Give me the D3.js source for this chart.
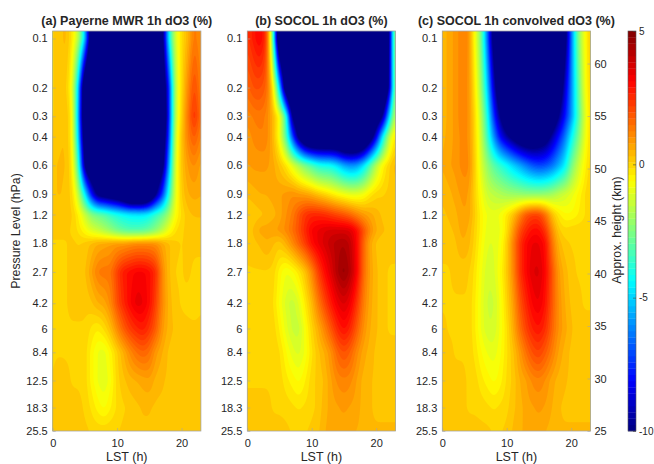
<!DOCTYPE html>
<html><head><meta charset="utf-8">
<script src="https://cdn.jsdelivr.net/npm/d3@7"></script>
<style>
html,body{margin:0;padding:0;background:#fff;}
svg{display:block;}
text{font-family:"Liberation Sans",Arial,sans-serif;fill:#262626;}
</style></head><body>
<svg id="c" width="654" height="464"></svg>
<script>
const hours=d3.range(0,24);
const levels=[0.1,0.2,0.3,0.4,0.6,0.9,1.2,1.5,1.8,2.7,4.2,6,8.4,12.5,18.3,25.5];
const pressureTicks=[0.1,0.2,0.3,0.4,0.6,0.9,1.2,1.8,2.7,4.2,6,8.4,12.5,18.3,25.5];
const lstTicks=[0,10,20];
const heightTicks=[25,30,35,40,45,50,55,60];
const colorTicks=[-10,-5,0,5];
const titles=["(a) Payerne MWR 1h dO3 (%)","(b) SOCOL 1h dO3 (%)","(c) SOCOL 1h convolved dO3 (%)"];
const panelA=[
[.05,.15,.45,-.2,-1.6,-5,-12,-14,-14,-14,-14,-14,-14,-14,-14,-14,-14,-11,-4.5,-1.2,-.1,.45,1.5,.85],
[.05,.15,.25,-.7,-5,-13,-14,-14,-14,-14,-14,-14,-14,-14,-14,-14,-14,-12,-8,-1.5,-.1,1.1,2.2,1.1],
[.05,.15,.35,-.3,-5.5,-13,-14,-14,-14,-14,-14,-14,-14,-14,-14,-14,-14,-13,-8,-1.5,.05,1.4,2.6,1.3],
[.15,.25,.35,-.3,-5,-12,-14,-14,-14,-14,-14,-14,-14,-14,-14,-14,-14,-12,-7.5,-1.2,.25,1.3,1.9,1.1],
[.25,.35,.35,-.1,-3.5,-10.5,-13,-13,-13,-13,-13,-13,-13,-13,-13,-13,-13,-11,-6,-1,.25,.85,1.1,.65],
[.25,.35,.25,.05,-1.5,-4.5,-8,-10.5,-11,-11.5,-12,-13,-14.5,-14.5,-14.5,-13,-10,-7.5,-4,-1,.15,.55,.65,.55],
[.15,.15,.15,.15,-.4,-1.4,-2.4,-2.8,-3.1,-3.6,-4,-4.3,-4.5,-4.6,-4.6,-4.3,-3.6,-3,-2,-.7,-.1,.25,.35,.35],
[.15,.15,.15,.05,-.2,-.6,-1.1,-1.4,-1.8,-2.2,-2.7,-3,-3.2,-3.2,-3.1,-2.8,-2.3,-1.6,-.8,-.2,.05,.15,.15,.15],
[.05,.05,.05,.15,.05,.15,.35,.55,.65,.75,.85,.85,1,1.1,1.1,1.1,1,.65,.35,.15,.05,.15,.15,.15],
[.05,.05,.05,.15,.15,.25,.75,1.3,1.4,1.4,2.2,2.8,3,3.2,3.2,3,2.5,1.1,.35,.05,.05,.15,0,0],
[.05,.05,.05,.15,.15,.15,.25,.55,.65,1.1,2,2.6,3.1,3.5,3.4,3,2.2,1.1,.45,.15,.05,0,-.1,.05],
[.05,.05,.05,.05,.05,.05,-.2,-.4,-.1,.35,1.1,1.8,2.3,2.6,2.8,2.4,1.8,.85,.45,.25,.15,.15,.15,.15],
[.05,.05,.05,.05,.05,0,-.5,-.9,-1,-.5,.05,.55,1.1,1.5,1.7,1.5,.85,.55,.25,.15,.15,.15,.15,.15],
[.05,.25,.15,.05,.05,0,-.5,-.9,-1.1,-.7,0,.25,.45,.55,.65,.75,.45,.35,.25,.25,.25,.25,.25,.25],
[.05,.25,.25,.15,.15,.05,-.2,-.5,-.7,-.4,-.1,.05,.15,.25,.35,.35,.25,.25,.25,.3,.3,.3,.3,.3],
[.15,.15,.15,.15,.15,.15,.05,0,0,.05,.05,.15,.15,.25,.25,.25,.25,.25,.3,.3,.3,.3,.3,.3]];
const panelB=[
[2.3,2.8,3.2,2.4,-3,-14,-14,-14,-14,-14,-14,-14,-14,-14,-14,-14,-14,-14,-14,-14,-14,-14,-10.5,-.5],
[1.6,2,2,1.7,-.1,-5,-12,-14,-14,-14,-14,-14,-14,-14,-14,-14,-14,-14,-14,-14,-14,-14,-10,-1],
[1.1,1.3,1.4,1.2,.45,-.6,-3.5,-10.5,-12,-14,-14,-14,-14,-14,-14,-14,-14,-14,-14,-14,-12,-10,-5,-1],
[.85,1.1,1.2,1.2,.45,-.7,-3,-7,-10.5,-13,-14,-14,-14,-14,-14,-15,-15,-15,-14,-11.5,-8.5,-4.5,-1.5,-.1],
[.75,.85,.85,.85,.65,.25,-.2,-1,-1.8,-2.6,-3.2,-3.9,-4.1,-4.2,-4.8,-5.6,-6,-5.8,-4.8,-3.2,-1.6,-.5,.05,.45],
[.35,.45,.55,.55,.65,.75,.85,1,.85,.75,.55,.25,0,-.3,-.6,-.8,-1,-1,-.8,-.3,0,.05,.15,.25],
[.05,.15,.25,.35,.45,.65,1,1.3,1.9,2.4,2.6,2.6,2.5,2.3,2.1,1.9,1.6,1.2,.85,.65,.45,.25,.15,.15],
[.15,.35,.65,.65,.75,.85,1.1,1.5,2,2.6,3.2,3.4,3.6,3.7,3.7,3.7,3.6,3,2,1.1,.55,.35,.25,.15],
[.15,.25,.35,.55,.35,.15,.55,1.1,1.7,2.3,3,3.4,3.7,4,4.2,4.3,4,3.1,1.7,.65,.25,.15,.15,.15],
[.05,.05,.05,.05,0,-.5,-.9,-.7,-.3,.25,1.1,2.2,3,3.6,4.3,4.7,4.2,3.2,1.6,.75,.35,.15,.05,.05],
[.05,.05,.05,.05,-.1,-.7,-1.2,-1.5,-1.1,-.3,.35,1.3,2.1,2.8,3.4,3.7,3.3,2.4,1.3,.65,.35,.15,.05,.05],
[.05,.05,.05,.05,0,-.4,-1,-1.4,-1.5,-.7,0,.55,1.2,1.9,2.6,3,2.6,1.8,1,.55,.35,.15,.05,.05],
[.05,.05,.05,.05,.05,-.1,-.6,-1,-1.2,-.8,-.2,.25,.55,1,1.7,2,1.7,1.1,.65,.45,.25,.15,.15,.15],
[.05,.05,.05,.05,.05,0,-.3,-.5,-.7,-.4,0,.15,.35,.75,1.1,1.2,1.1,.75,.45,.35,.25,.15,.15,.15],
[.15,.15,.15,.15,.05,.05,0,-.1,-.2,-.1,0,.15,.45,.65,.75,.85,.75,.65,.45,.35,.25,.25,.25,.25],
[.25,.25,.25,.25,.15,.15,.15,.05,.05,.05,.15,.25,.55,.65,.65,.65,.55,.55,.45,.35,.35,.35,.35,.35]];
const panelC=[
[.35,.65,.85,1.2,1.2,-.6,-2.5,-6.5,-11,-14,-14,-14,-14,-14,-14,-14,-14,-14,-14,-11,-6.5,-2.7,-.8,.25],
[.35,.65,.85,1.2,1.1,-.2,-2,-5,-9,-12,-14,-14,-14,-14,-14,-14,-14,-14,-12,-9,-6.2,-3.3,-1,.15],
[.35,.65,.85,1.2,1.1,0,-1.5,-4,-7.5,-10,-12,-13,-13,-13,-13,-13,-13,-12,-10,-8,-6,-3.5,-1.3,.05],
[.45,.65,.85,1.1,1.1,.05,-1.3,-3.5,-6,-8.2,-9.5,-10.5,-11.5,-12,-12,-11.5,-11,-9.5,-8,-6.5,-4.5,-2.8,-1.1,.05],
[.55,.75,.85,1.1,1.2,.15,-1.1,-2.2,-3.1,-3.7,-4.3,-5,-5.6,-6.3,-6.9,-7.2,-7,-6.5,-5.6,-4.6,-2.7,-1.5,-.6,.05],
[.35,.45,.65,.85,.85,.05,-.7,-1.4,-1.6,-1.8,-2,-2.1,-2.2,-2.3,-2.3,-2.3,-2.2,-2,-1.6,-1.3,-1,-.6,-.2,.15],
[.25,.35,.45,.75,.75,.15,-.5,-.9,-1,-.8,-.3,.25,1.1,1.9,2.2,2.2,1.5,.35,-.3,-.6,-.6,-.4,-.2,.05],
[.15,.25,.35,.65,.55,.05,-.5,-1,-1.1,-.9,-.2,.85,2,2.6,3,3,2.4,1.1,.15,-.1,0,0,0,.05],
[.15,.15,.25,.55,.45,0,-.6,-1.1,-1.1,-.8,.05,1.2,2.4,3.1,3.4,3.4,3,1.5,.45,.15,.05,.05,.05,.05],
[.05,.05,.15,.15,.15,-.2,-.8,-1.3,-1.2,-.6,.15,1.1,2.4,3.1,3.6,3.7,3.1,2,.85,.45,.15,.05,.05,.05],
[.05,.05,.05,.05,.05,-.3,-.9,-1.4,-1.4,-.8,0,.75,1.9,2.6,3.2,3.4,2.9,1.9,1,.55,.25,.15,.05,.05],
[.15,.05,.05,.05,.05,-.3,-.9,-1.3,-1.3,-.8,-.2,.55,1.5,2.2,2.7,2.9,2.5,1.7,1,.65,.35,.15,.15,.15],
[.15,.15,.05,.05,.05,-.2,-.6,-.9,-1,-.7,-.2,.25,.85,1.5,2,2.2,1.8,1.3,.75,.45,.25,.15,.15,.15],
[.15,.15,.15,.15,.05,0,-.3,-.5,-.7,-.5,-.1,.15,.55,.75,1.1,1.2,1,.65,.45,.35,.25,.25,.15,.15],
[.15,.15,.15,.15,.05,.05,0,-.1,-.2,-.1,0,.25,.45,.65,.75,.85,.75,.55,.35,.25,.25,.25,.25,.25],
[.25,.25,.25,.25,.15,.15,.15,.15,.05,.05,.15,.35,.55,.55,.65,.65,.55,.45,.35,.35,.35,.35,.35,.35]];

const panels=[{g:panelA,x0:52.7,title:titles[0]},{g:panelB,x0:247.3,title:titles[1]},{g:panelC,x0:442.3,title:titles[2]}];
const plotW=148.2, plotTop=31, plotBottom=431;
const svg=d3.select("#c");
const ink="#262626", boxC="#a6a6a6";

function jet(f){
  const cl=v=>Math.max(0,Math.min(1,v));
  const r=cl(Math.min(4*f-1.5,-4*f+4.5)),g=cl(Math.min(4*f-.5,-4*f+3.5)),b=cl(Math.min(4*f+.5,-4*f+2.5));
  return d3.rgb(r*255,g*255,b*255).formatHex();
}
const nColors=64, cMin=-10, cMax=5;
const colors=d3.range(nColors).map(i=>jet((i+.5)/nColors));
const thresholds=d3.range(1,nColors).map(i=>cMin+i*(cMax-cMin)/nColors);
const y=d3.scaleLog().domain([0.09,25.5]).range([plotTop,plotBottom]);
const logLev=levels.map(Math.log10);

function sampler(rows){
  return (h,p)=>{
    const lp=Math.log10(Math.max(levels[0],Math.min(levels[levels.length-1],p)));
    let k=d3.bisectRight(logLev,lp)-1; k=Math.max(0,Math.min(levels.length-2,k));
    const t=(lp-logLev[k])/(logLev[k+1]-logLev[k]);
    let i=Math.floor(h); i=Math.max(0,Math.min(hours.length-2,i));
    const s=h-hours[i];
    const a=rows[k][i]*(1-s)+rows[k][i+1]*s, b=rows[k+1][i]*(1-s)+rows[k+1][i+1]*s;
    return a*(1-t)+b*t;
  };
}

panels.forEach((P,pi)=>{
  const x=d3.scaleLinear().domain([0,23]).range([P.x0,P.x0+plotW]);
  const W=Math.round(plotW)*2, H=(plotBottom-plotTop)*2;
  const sample=sampler(P.g);
  const vals=new Float64Array(W*H);
  for(let j=0;j<H;j++){
    const p=y.invert(plotTop+(j+.5)/2);
    for(let i=0;i<W;i++){
      const h=x.invert(P.x0+(i+.5)*plotW/W);
      vals[j*W+i]=sample(h,p);
    }
  }
  if(d3.blur2) d3.blur2({data:vals,width:W,height:H},4);
  const cont=d3.contours().size([W,H]).thresholds(thresholds)(vals);
  const g=svg.append("g").attr("transform",`translate(${P.x0},${plotTop}) scale(${plotW/W},${(plotBottom-plotTop)/H})`);
  g.append("rect").attr("width",W).attr("height",H).attr("fill",colors[0]);
  const path=d3.geoPath();
  g.selectAll("path").data(cont).join("path").attr("d",path).attr("fill",(d,i)=>colors[i+1]);

  svg.append("rect").attr("x",P.x0).attr("y",plotTop).attr("width",plotW).attr("height",plotBottom-plotTop)
    .attr("fill","none").attr("stroke",boxC).attr("stroke-width",.8);

  const ax=svg.append("g").attr("transform",`translate(0,${plotBottom})`)
    .call(d3.axisBottom(x).tickValues(lstTicks).tickSize(-3).tickPadding(8).tickFormat(d3.format("d")));
  ax.select(".domain").remove();
  ax.selectAll("line").attr("stroke",boxC).attr("stroke-width",.6);
  ax.selectAll("text").attr("font-size",11).attr("fill",ink);

  const ay=svg.append("g").attr("transform",`translate(${P.x0},0)`)
    .call(d3.axisLeft(y).tickValues(pressureTicks).tickSize(-3).tickPadding(5).tickFormat(d=>String(d)));
  ay.select(".domain").remove();
  ay.selectAll("line").attr("stroke",boxC).attr("stroke-width",.6);
  ay.selectAll("text").attr("font-size",11).attr("fill",ink);

  svg.append("text").attr("x",P.x0+plotW/2).attr("y",25).attr("text-anchor","middle")
    .attr("font-size",12.5).attr("font-weight","bold").attr("fill","#000").text(P.title);
  svg.append("text").attr("x",P.x0+plotW/2).attr("y",461).attr("text-anchor","middle")
    .attr("font-size",12.5).text("LST (h)");
});

svg.append("text").attr("transform","translate(20,231) rotate(-90)").attr("text-anchor","middle")
  .attr("font-size",12.3).text("Pressure Level (hPa)");

const xRight=442.3+plotW;
const yH=d3.scaleLinear().domain([25,63.1]).range([plotBottom,plotTop]);
const ar=svg.append("g").attr("transform",`translate(${xRight},0)`)
  .call(d3.axisRight(yH).tickValues(heightTicks).tickSize(-3).tickPadding(4).tickFormat(d3.format("d")));
ar.select(".domain").remove();
ar.selectAll("line").attr("stroke",boxC).attr("stroke-width",.6);
ar.selectAll("text").attr("font-size",11).attr("fill",ink);
svg.append("text").attr("transform","translate(621,230) rotate(-90)").attr("text-anchor","middle")
  .attr("font-size",12.3).text("Approx. height (km)");

const barX=628, barW=8;
const yC=d3.scaleLinear().domain([cMin,cMax]).range([plotBottom,plotTop]);
const step=(cMax-cMin)/nColors;
svg.append("g").selectAll("rect").data(colors).join("rect")
  .attr("x",barX).attr("width",barW)
  .attr("y",(d,i)=>yC(cMin+(i+1)*step)).attr("height",(d,i)=>yC(cMin+i*step)-yC(cMin+(i+1)*step)+.3)
  .attr("fill",d=>d);
svg.append("rect").attr("x",barX).attr("y",plotTop).attr("width",barW).attr("height",plotBottom-plotTop)
  .attr("fill","none").attr("stroke","#555").attr("stroke-width",.6);
const ac=svg.append("g").attr("transform",`translate(${barX+barW},0)`)
  .call(d3.axisRight(yC).tickValues(colorTicks).tickSize(-3).tickPadding(3).tickFormat(d=>String(d)));
ac.select(".domain").remove();
ac.selectAll("line").attr("stroke","#444").attr("stroke-width",.6);
ac.selectAll("text").attr("font-size",10).attr("fill",ink);
</script>
</body></html>
